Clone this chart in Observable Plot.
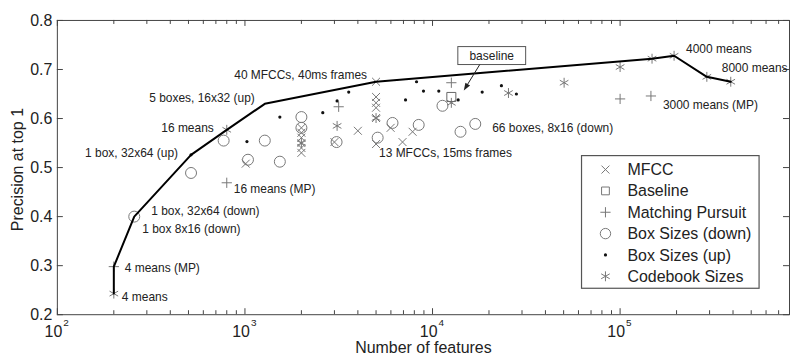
<!DOCTYPE html>
<html>
<head>
<meta charset="utf-8">
<script src="https://cdn.jsdelivr.net/npm/d3@7"></script>
<script src="https://cdn.jsdelivr.net/npm/@observablehq/plot@0.6"></script>
<style>
  html, body { margin: 0; padding: 0; background: #fff; overflow: hidden; }
  #chart { width: 790px; height: 357px; overflow: hidden; }
</style>
</head>
<body>
<div id="chart"></div>
<script>
// Precision at top 1 versus number of features, per feature configuration.
// Each series is a list of [number of features, precision] pairs.
const mfcc = [
  [5000, 0.675], [5000, 0.644], [5000, 0.632], [5000, 0.622], [5000, 0.601], [5000, 0.548],
  [2000, 0.581], [2000, 0.571], [2000, 0.561], [2000, 0.550], [2000, 0.540], [2000, 0.530],
  [4000, 0.575], [3000, 0.552], [5980, 0.581], [6920, 0.552], [7830, 0.573], [1010, 0.508]
];
const baseline = [[12600, 0.644]];
const matchingPursuit = [
  [200, 0.298], [800, 0.469], [3160, 0.624], [12600, 0.673], [100000, 0.640], [146000, 0.646]
];
const boxSizesDown = [
  [257, 0.400], [516, 0.489], [770, 0.555], [1276, 0.555], [1038, 0.516], [1535, 0.512],
  [2000, 0.603], [2000, 0.581], [3080, 0.552], [5100, 0.561], [6120, 0.591], [8440, 0.587],
  [11300, 0.626], [14100, 0.573], [16900, 0.589]
];
const boxSizesUp = [
  [516, 0.526], [1025, 0.553], [1535, 0.603], [2600, 0.612], [3100, 0.636], [3575, 0.654],
  [7180, 0.638], [8220, 0.675], [8950, 0.656], [10800, 0.656], [13700, 0.638], [18400, 0.654],
  [23300, 0.667], [28000, 0.650]
];
const codebookSizes = [
  [200, 0.243], [800, 0.577], [2000, 0.550], [3100, 0.585], [5000, 0.601], [12600, 0.632],
  [25400, 0.652], [50300, 0.673], [100000, 0.705], [148000, 0.722], [194000, 0.728],
  [290000, 0.685], [389000, 0.675]
];

// Best precision reached for a given budget of features.
const frontierFeatures = [200, 200, 257, 516, 800, 1276, 5000, 148000, 194000, 290000, 389000];
const frontierPrecision = [0.243, 0.298, 0.400, 0.526, 0.577, 0.630, 0.675, 0.722, 0.728, 0.685, 0.675];

// Axis ticks and labels.
const xMajorTicks = [1e2, 1e3, 1e4, 1e5];
const xTickBase = "10";
const xTickExponents = ["2", "3", "4", "5"];
const yTicks = [0.2, 0.3, 0.4, 0.5, 0.6, 0.7, 0.8];
const yTickLabels = ["0.2", "0.3", "0.4", "0.5", "0.6", "0.7", "0.8"];

// Point labels.
const annotationTexts = [
  "40 MFCCs, 40ms frames", "5 boxes, 16x32 (up)", "16 means", "1 box, 32x64 (up)",
  "1 box, 32x64 (down)", "1 box 8x16 (down)", "4 means (MP)", "4 means", "16 means (MP)",
  "13 MFCCs, 15ms frames", "66 boxes, 8x16 (down)", "3000 means (MP)", "4000 means", "8000 means"
];
const annotationPoints = [
  [5000, 0.675], [1276, 0.630], [800, 0.577], [516, 0.526],
  [257, 0.400], [257, 0.400], [200, 0.298], [200, 0.243], [800, 0.469],
  [5000, 0.548], [16900, 0.589], [146000, 0.646], [194000, 0.728], [389000, 0.675]
];

const legendLabels = ["MFCC", "Baseline", "Matching Pursuit", "Box Sizes (down)", "Box Sizes (up)", "Codebook Sizes"];

// ---- layout ----
const FONT = "'Liberation Sans', Arial, Helvetica, sans-serif";
const W = 792, H = 357;
const mL = 57, mR = 1, mT = 20, mB = 42;
const xDomain = [1e2, 8e5], yDomain = [0.2, 0.8];
const innerW = W - mL - mR, innerH = H - mT - mB;
const yPerPx = (yDomain[1] - yDomain[0]) / innerH;
const xDecPerPx = Math.log10(xDomain[1] / xDomain[0]) / innerW;
const axisColor = "#444";
const markerColor = "#777";
const textColor = "#222";

// label placement: [dx, dy, anchor]
const labelLayout = {
  "40 MFCCs, 40ms frames": [-9, -7, "end"],
  "5 boxes, 16x32 (up)": [-10, -6, "end"],
  "16 means": [-13, -2, "end"],
  "1 box, 32x64 (up)": [-13, -2, "end"],
  "1 box, 32x64 (down)": [17, -5, "start"],
  "1 box 8x16 (down)": [8, 13, "start"],
  "4 means (MP)": [11, 2, "start"],
  "4 means": [8, 4, "start"],
  "16 means (MP)": [7, 6, "start"],
  "13 MFCCs, 15ms frames": [3, 9, "start"],
  "66 boxes, 8x16 (down)": [17, 4, "start"],
  "3000 means (MP)": [12, 9, "start"],
  "4000 means": [12, -7, "start"],
  "8000 means": [-9, -14, "start"]
};

const xMinorTicks = [];
for (let e = 2; e <= 5; e++) {
  for (let m = 2; m <= 9; m++) {
    const v = m * 10 ** e;
    if (v < xDomain[1]) xMinorTicks.push(v);
  }
}

function xTicksMarks(ticks, len) {
  return [
    Plot.ruleX(ticks, {x: d => d, y1: yDomain[0], y2: yDomain[0] + len * yPerPx, stroke: axisColor}),
    Plot.ruleX(ticks, {x: d => d, y1: yDomain[1], y2: yDomain[1] - len * yPerPx, stroke: axisColor})
  ];
}

const yTickLen = 10 ** (6 * xDecPerPx);

const annotationMarks = annotationTexts.map((t, i) => {
  const [dx, dy, anchor] = labelLayout[t];
  return Plot.text([annotationPoints[i]], {
    x: d => d[0], y: d => d[1], text: () => t,
    dx, dy, textAnchor: anchor, fontSize: 12, fill: textColor
  });
});

const frontier = frontierFeatures.map((f, i) => [f, frontierPrecision[i]]);

const plot = Plot.plot({
  width: W, height: H,
  marginLeft: mL, marginRight: mR, marginTop: mT, marginBottom: mB,
  style: {fontFamily: FONT, background: "white", color: textColor},
  x: {type: "log", domain: xDomain, axis: null},
  y: {domain: yDomain, axis: null},
  marks: [
    // ticks inside the box, on all four sides
    ...xTicksMarks(xMajorTicks, 6),
    ...xTicksMarks(xMinorTicks, 4),
    Plot.ruleY(yTicks, {y: d => d, x1: xDomain[0], x2: xDomain[0] * yTickLen, stroke: axisColor}),
    Plot.ruleY(yTicks, {y: d => d, x1: xDomain[1], x2: xDomain[1] / yTickLen, stroke: axisColor}),
    Plot.frame({stroke: axisColor, strokeWidth: 1}),

    // tick labels
    Plot.text(yTicks, {x: xDomain[0], y: d => d, text: (d, i) => yTickLabels[i], textAnchor: "end", dx: -5, fontSize: 16, fill: textColor}),
    Plot.text(xMajorTicks, {x: d => d, y: yDomain[0], text: () => xTickBase, textAnchor: "end", dx: 5, dy: 17, fontSize: 16, fill: textColor}),
    Plot.text(xMajorTicks, {x: d => d, y: yDomain[0], text: (d, i) => xTickExponents[i], textAnchor: "start", dx: 6, dy: 8, fontSize: 10, fill: textColor}),

    // axis titles
    Plot.text(["Number of features"], {frameAnchor: "bottom", lineAnchor: "middle", textAnchor: "middle", text: d => d, dy: 33, fontSize: 16, fill: textColor}),
    Plot.text(["Precision at top 1"], {frameAnchor: "left", lineAnchor: "middle", textAnchor: "middle", text: d => d, rotate: -90, dx: -40, dy: 2, fontSize: 16, fill: textColor}),

    // series
    Plot.dot(boxSizesDown, {x: d => d[0], y: d => d[1], symbol: "circle", r: 5.5, stroke: markerColor, fill: "none", strokeWidth: 1}),
    Plot.dot(mfcc, {x: d => d[0], y: d => d[1], symbol: "times", r: 3.7, stroke: markerColor, strokeWidth: 1}),
    Plot.dot(matchingPursuit, {x: d => d[0], y: d => d[1], symbol: "plus", r: 3.4, stroke: markerColor, strokeWidth: 1}),
    Plot.dot(codebookSizes, {x: d => d[0], y: d => d[1], symbol: "asterisk", r: 4.7, stroke: markerColor, strokeWidth: 1}),
    Plot.dot(baseline, {x: d => d[0], y: d => d[1], symbol: "square", r: 5.1, stroke: "#666", fill: "none", strokeWidth: 1}),
    Plot.dot(boxSizesUp, {x: d => d[0], y: d => d[1], r: 1.6, fill: "#111", stroke: "none"}),

    // best-precision frontier
    Plot.line(frontier, {x: d => d[0], y: d => d[1], stroke: "#000", strokeWidth: 2, strokeLinejoin: "round"}),

    ...annotationMarks
  ]
});

document.getElementById("chart").appendChild(plot);

// ---- baseline callout and legend, placed with the plot's own scales ----
const sx = plot.scale("x"), sy = plot.scale("y");
const svg = d3.select(plot);
const bx = sx.apply(baseline[0][0]), by = sy.apply(baseline[0][1]);

const callout = svg.append("g").attr("font-family", FONT);
callout.append("rect")
  .attr("x", bx + 7).attr("y", by - 50).attr("width", 68).attr("height", 18)
  .attr("fill", "white").attr("stroke", "#555").attr("stroke-width", 1);
callout.append("text")
  .attr("x", bx + 41).attr("y", by - 41).attr("text-anchor", "middle")
  .attr("dominant-baseline", "central").attr("font-size", 12).attr("fill", textColor)
  .text("baseline");
const ax1 = bx + 29, ay1 = by - 32, ax2 = bx + 13, ay2 = by - 6;
const ang = Math.atan2(ay2 - ay1, ax2 - ax1);
callout.append("line")
  .attr("x1", ax1).attr("y1", ay1).attr("x2", ax2 - 5 * Math.cos(ang)).attr("y2", ay2 - 5 * Math.sin(ang))
  .attr("stroke", textColor).attr("stroke-width", 1);
const head = [
  [ax2, ay2],
  [ax2 - 8 * Math.cos(ang - 0.35), ay2 - 8 * Math.sin(ang - 0.35)],
  [ax2 - 8 * Math.cos(ang + 0.35), ay2 - 8 * Math.sin(ang + 0.35)]
];
callout.append("path").attr("d", "M" + head.join("L") + "Z").attr("fill", textColor);

// legend box in the lower right of the axes
const lgX = 583, lgY = 156, lgW = 178, lgH = 133, rowH = 21.4;
const legend = svg.append("g").attr("font-family", FONT).attr("text-anchor", "start");
legend.append("rect")
  .attr("x", lgX).attr("y", lgY).attr("width", lgW).attr("height", lgH)
  .attr("fill", "white").attr("stroke", "#555").attr("stroke-width", 1.2);
const legendSymbols = [
  {type: d3.symbolTimes, r: 3.7, stroke: markerColor, fill: "none"},
  {type: d3.symbolSquare, r: 4.4, stroke: markerColor, fill: "none"},
  {type: d3.symbolPlus, r: 3.4, stroke: markerColor, fill: "none"},
  {type: d3.symbolCircle, r: 5.2, stroke: markerColor, fill: "none"},
  {type: d3.symbolCircle, r: 1.6, stroke: "none", fill: "#111"},
  {type: d3.symbolAsterisk, r: 4.7, stroke: markerColor, fill: "none"}
];
legendLabels.forEach((label, i) => {
  const cy = lgY + 14 + i * rowH;
  const s = legendSymbols[i];
  legend.append("path")
    .attr("transform", `translate(${lgX + 24},${cy})`)
    .attr("d", d3.symbol(s.type, Math.PI * s.r * s.r)())
    .attr("stroke", s.stroke).attr("fill", s.fill).attr("stroke-width", 1);
  legend.append("text")
    .attr("x", lgX + 46).attr("y", cy).attr("dy", "0.35em")
    .attr("text-anchor", "start")
    .attr("font-size", 16).attr("fill", textColor).text(label);
});
</script>
</body>
</html>
